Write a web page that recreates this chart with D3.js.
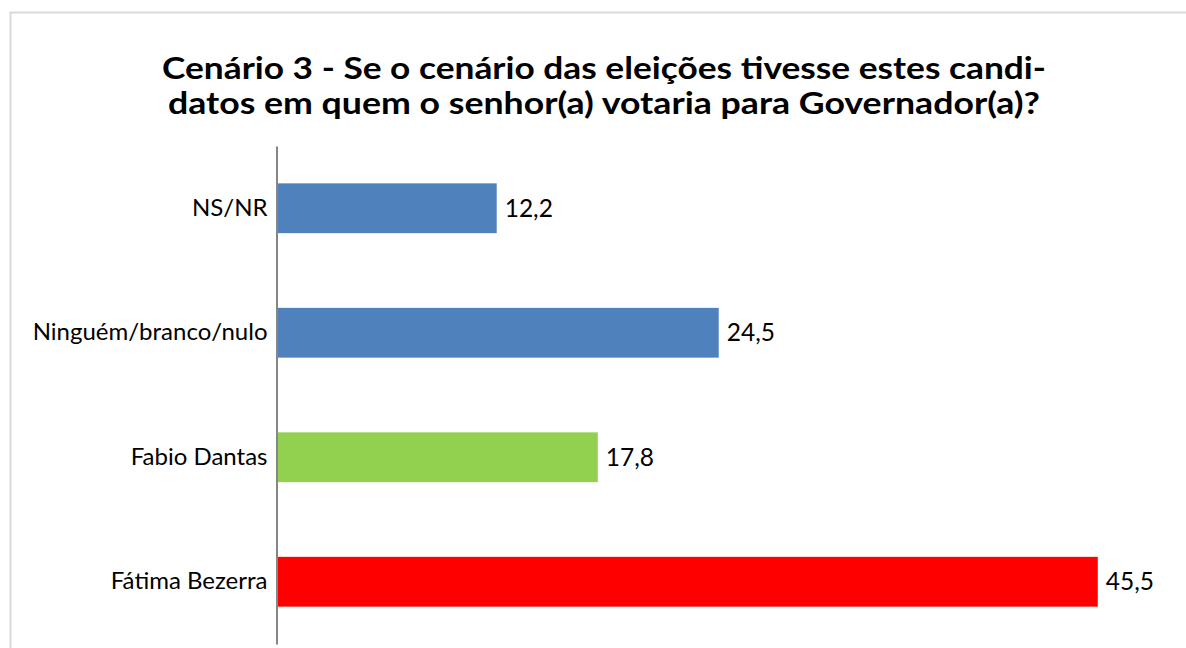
<html>
<head>
<meta charset="utf-8">
<script src="https://d3js.org/d3.v7.min.js"></script>
<style>
body { margin: 0; background: #fff; }
svg { display: block; }
text { font-family: Lato, "Open Sans", sans-serif; fill: #000; }
</style>
</head>
<body>
<svg width="1186" height="648"></svg>
<script>

// data, top to bottom
var categories = ["NS/NR", "Ninguém/branco/nulo", "Fabio Dantas", "Fátima Bezerra"];
var values = [12.2, 24.5, 17.8, 45.5];
var colors = ["#4F81BD", "#4F81BD", "#92D050", "#FF0000"];
var titleLines = [
    "Cenário 3 - Se o cenário das eleições tivesse estes candi-",
    "datos em quem o senhor(a) votaria para Governador(a)?"
];

var svg = d3.select("svg");

// chart area frame (only left / top edges show)
svg.append("rect")
    .attr("x", 10.5).attr("y", 12.5)
    .attr("width", 1300).attr("height", 800)
    .attr("fill", "none")
    .attr("stroke", "#d9d9d9")
    .attr("stroke-width", 2);

// title
var titleW = [884, 872];
svg.selectAll(".title")
    .data(titleLines)
  .enter().append("text")
    .attr("class", "title")
    .attr("x", 604)
    .attr("y", (d, i) => 79 + i * 35)
    .attr("text-anchor", "middle")
    .attr("textLength", (d, i) => titleW[i])
    .attr("lengthAdjust", "spacingAndGlyphs")
    .style("font-size", "31px")
    .style("font-weight", "bold")
    .text(d => d);

var x = d3.scaleLinear()
    .domain([0, 50])
    .range([276.5, 1179]);

var y = d3.scaleBand()
    .domain(categories)
    .range([146, 644])
    .paddingInner(0.6)
    .paddingOuter(0.3);

// bars
svg.selectAll(".bar")
    .data(values)
  .enter().append("rect")
    .attr("class", "bar")
    .attr("x", x(0))
    .attr("y", (d, i) => y(categories[i]))
    .attr("width", d => x(d) - x(0))
    .attr("height", y.bandwidth())
    .attr("fill", (d, i) => colors[i]);

// value labels
svg.selectAll(".val")
    .data(values)
  .enter().append("text")
    .attr("class", "val")
    .attr("x", d => x(d) + 8)
    .attr("y", (d, i) => y(categories[i]) + y.bandwidth() / 2)
    .attr("dy", "0.35em")
    .style("font-size", "24.5px")
    .text(d => d3.format(".1f")(d).replace(".", ","));

// category axis
var yAxis = svg.append("g")
    .attr("transform", "translate(" + x(0) + ",0)")
    .call(d3.axisLeft(y).tickSize(0).tickPadding(9));

yAxis.select(".domain")
    .attr("stroke", "#868686")
    .attr("stroke-width", 2);

yAxis.selectAll(".tick text")
    .style("font-size", "24px")
    .style("font-family", "Lato, 'Open Sans', sans-serif")
    .attr("fill", "#000");

</script>
</body>
</html>
